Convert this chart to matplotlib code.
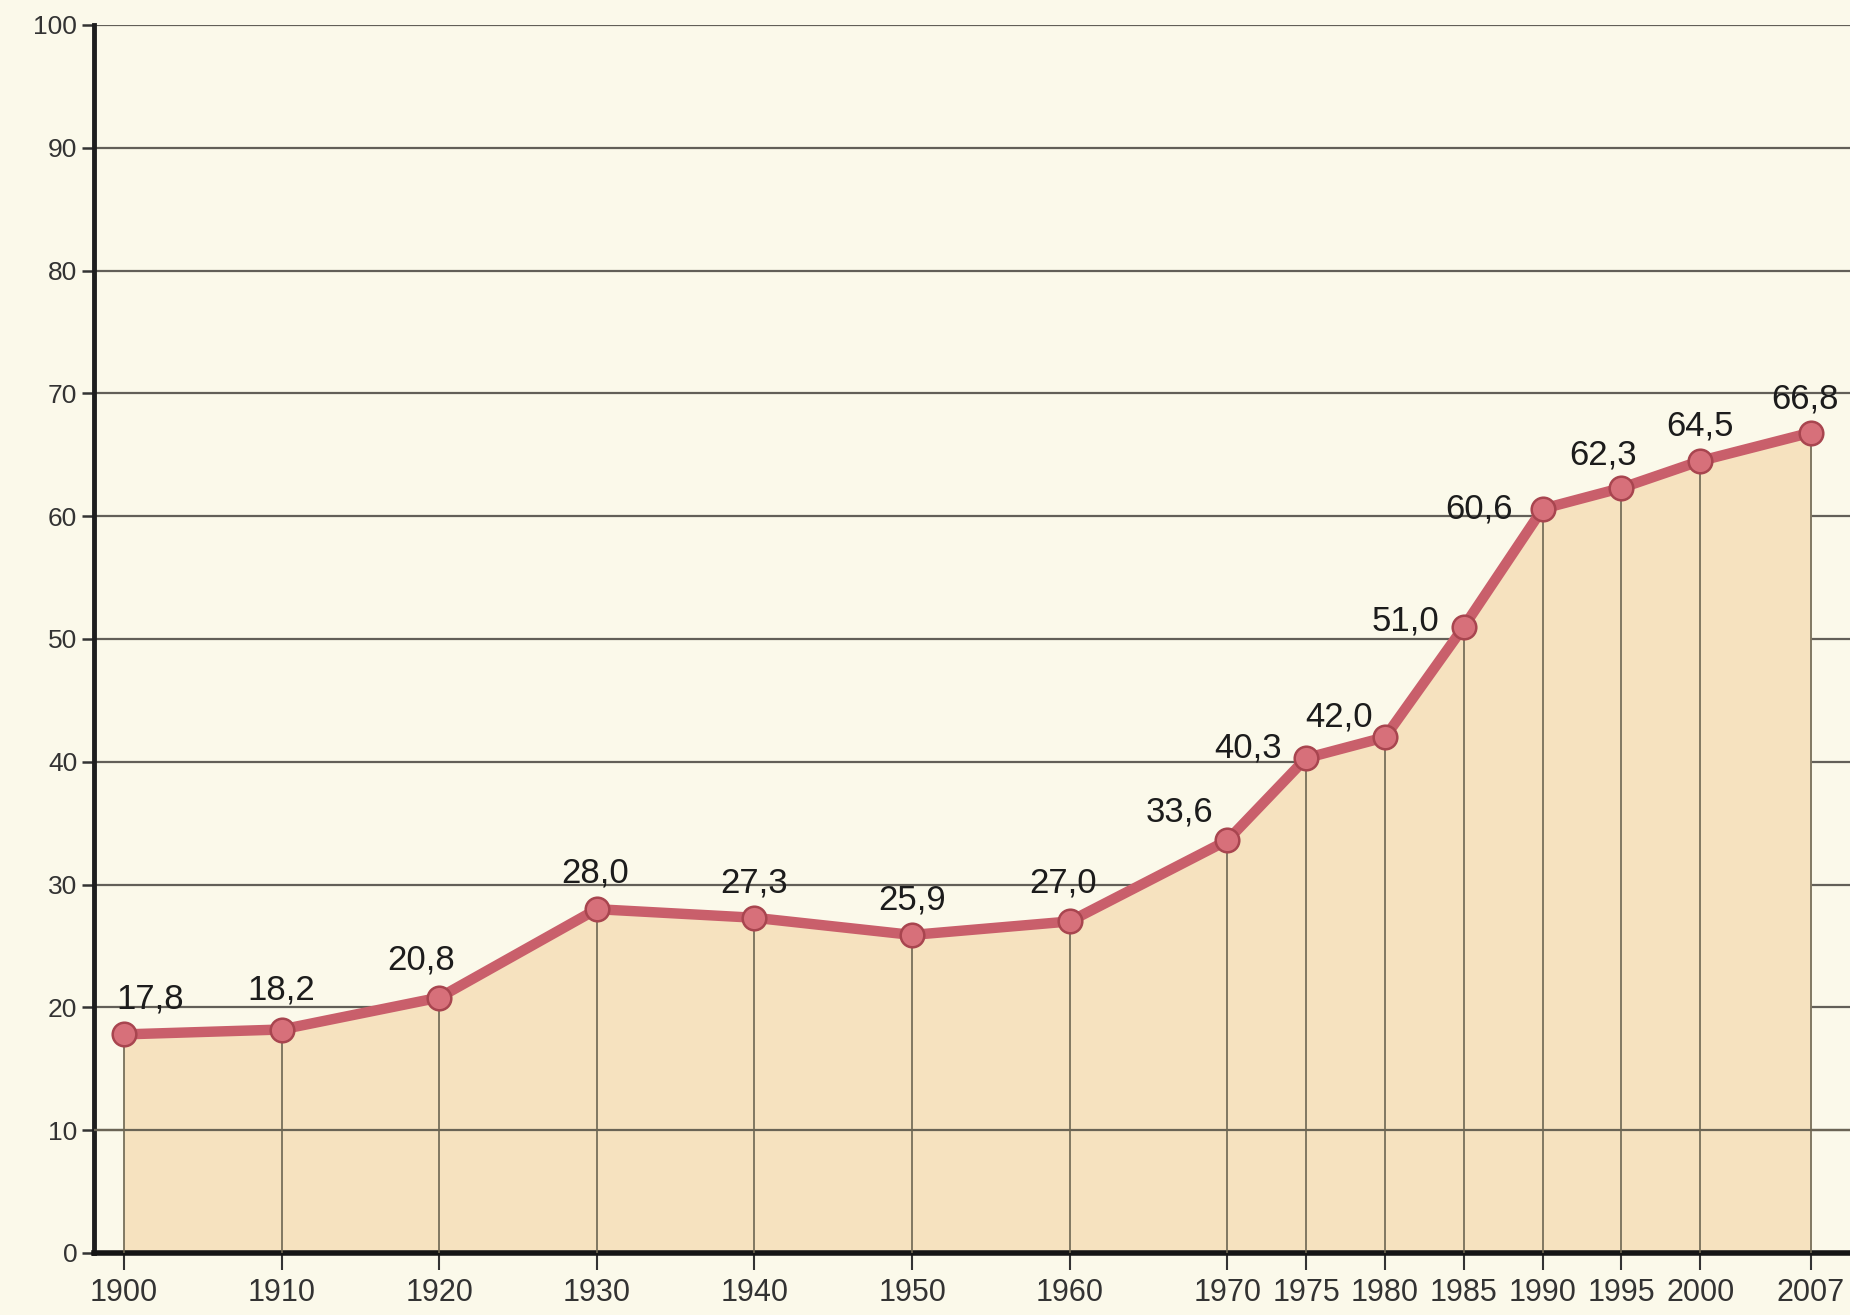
import matplotlib.pyplot as plt

# Data
years = [1900, 1910, 1920, 1930, 1940, 1950, 1960, 1970, 1975, 1980, 1985, 1990, 1995, 2000, 2007]
values = [17.8, 18.2, 20.8, 28.0, 27.3, 25.9, 27.0, 33.6, 40.3, 42.0, 51.0, 60.6, 62.3, 64.5, 66.8]
labels = ["17,8", "18,2", "20,8", "28,0", "27,3", "25,9", "27,0", "33,6",
          "40,3", "42,0", "51,0", "60,6", "62,3", "64,5", "66,8"]
yticks = [0, 10, 20, 30, 40, 50, 60, 70, 80, 90, 100]

# label offsets in pixels (layout only)
offsets = [(26, 35), (0, 40), (-18, 38), (-2, 36), (0, 35), (0, 35), (-7, 38), (-48, 28),
           (-58, 10), (-46, 20), (-58, 6), (-64, 0), (-18, 33), (0, 35), (-6, 34)]

bg = "#fbf9ea"
fill = "#f6e2bf"
line = "#c95f6b"

plt.rcParams['font.family'] = ['Liberation Sans Narrow', 'Liberation Sans', 'DejaVu Sans']

fig = plt.figure(figsize=(18.5, 13.15), dpi=100, facecolor=bg)
ax = fig.add_axes([94 / 1850, 62 / 1315, 1 - 94 / 1850, 1228 / 1315])
ax.set_facecolor(bg)

ax.set_ylim(0, 100)
ax.set_xlim(1898.1, 2009.5)

# horizontal grid
for y in yticks[1:]:
    ax.axhline(y, color="#625f58", lw=1.6, zorder=1)

# filled area
ax.fill_between(years, values, 0, color=fill, zorder=2)
ax.axhline(10, color="#6a6455", lw=1.6, zorder=3)

# vertical lines at each point
ax.vlines(years, 0, values, color="#6d6652", lw=1.2, zorder=3)

# main line
ax.plot(years, values, color=line, lw=7.5, zorder=4, solid_capstyle="round")
ax.plot(years, values, "o", ms=17, mfc="#d7707a", mec="#a8454f", mew=1.8, zorder=5)

for x, v, t, (dx, dy) in zip(years, values, labels, offsets):
    ax.annotate(t, (x, v), xytext=(dx, dy), textcoords="offset pixels",
                ha="center", va="center", fontsize=25, color="#1c1c1c", zorder=6)

ax.set_yticks(yticks)
ax.set_yticklabels([str(y) for y in yticks], fontsize=19, color="#333333")
ax.set_xticks(years)
ax.set_xticklabels([str(y) for y in years], fontsize=22, color="#333333")
ax.tick_params(axis="y", length=9, width=1.8, color="#333333", pad=3)
ax.tick_params(axis="x", length=12, width=1.5, color="#333333", pad=6)

for s in ["top", "right"]:
    ax.spines[s].set_visible(False)
ax.spines["left"].set_linewidth(3.5)
ax.spines["bottom"].set_linewidth(4)
ax.spines["left"].set_color("#1e1e1e")
ax.spines["bottom"].set_color("#151515")

fig.savefig("out.png", dpi=100, facecolor=bg)
